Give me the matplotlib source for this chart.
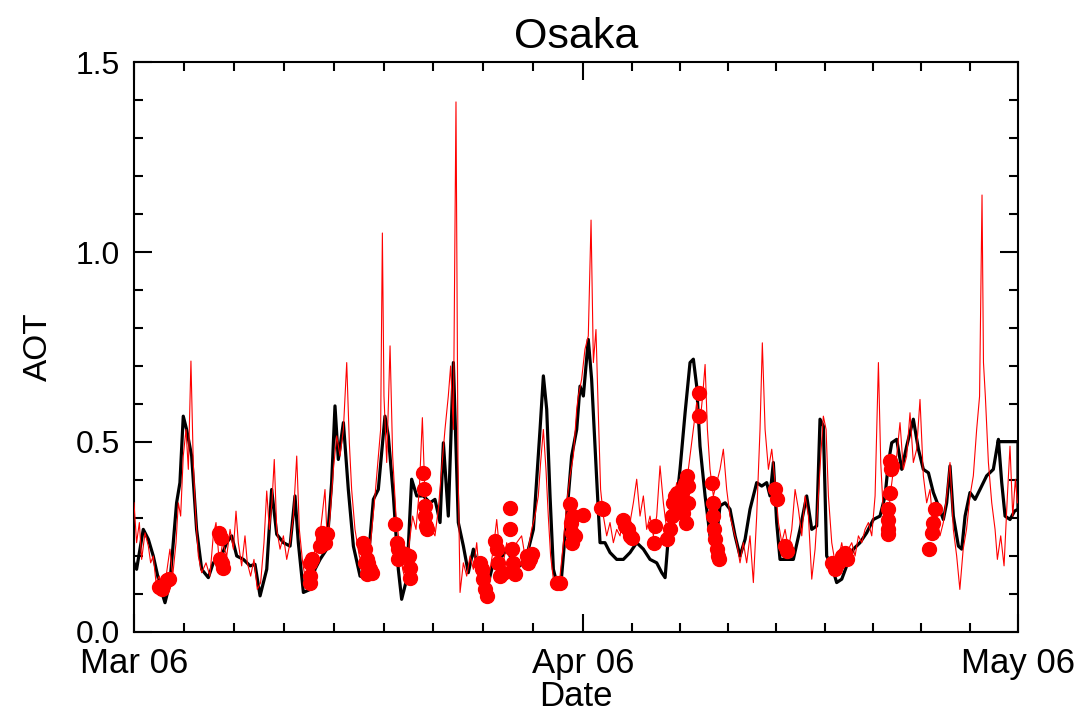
import numpy as np
import matplotlib
matplotlib.use("Agg")
import matplotlib.pyplot as plt
import matplotlib.dates as mdates
from matplotlib.ticker import FixedLocator
from datetime import datetime

plt.rcParams['font.family'] = ['Liberation Sans', 'DejaVu Sans']

# time axis: days since 2006-03-01 00:00
start = datetime(2006, 3, 1)
month_starts = [datetime(2006, 3, 1), datetime(2006, 4, 1), datetime(2006, 5, 1)]

# model AOT (black)
model_day = [0.00, 0.18, 0.64, 0.99, 1.33, 1.79, 2.14, 2.48, 2.94, 3.17, 3.40, 3.63, 3.98, 4.32,
             4.67, 5.13, 5.47, 5.94, 6.40, 6.74, 7.09, 7.55, 8.01, 8.35, 8.70, 9.16, 9.50, 9.85,
             10.31, 10.77, 11.11, 11.34, 11.69, 12.15, 12.49, 12.84, 13.30, 13.64, 13.87, 14.10,
             14.45, 14.79, 15.14, 15.60, 16.06, 16.52, 16.86, 17.32, 17.55, 17.90, 18.24, 18.47,
             18.82, 19.16, 19.51, 19.97, 20.43, 20.77, 21.12, 21.35, 21.69, 22.04, 22.38, 22.73,
             23.07, 23.42, 23.88, 24.34, 24.80, 25.26, 25.72, 26.18, 26.64, 27.10, 27.56, 28.02,
             28.25, 28.48, 28.71, 28.94, 29.17, 29.51, 29.86, 30.20, 30.55, 30.78, 31.01, 31.35,
             31.58, 31.93, 32.16, 32.50, 32.85, 33.31, 33.77, 34.23, 34.69, 35.15, 35.61, 36.07,
             36.42, 36.65, 36.88, 37.34, 37.68, 38.03, 38.37, 38.60, 38.83, 39.06, 39.41, 39.75,
             40.10, 40.44, 40.79, 41.13, 41.48, 41.82, 42.17, 42.51, 42.97, 43.32, 43.66, 43.89,
             44.12, 44.35, 44.58, 45.04, 45.50, 45.96, 46.42, 46.77, 47.11, 47.34, 47.57, 47.80,
             48.15, 48.49, 48.84, 49.18, 49.64, 50.10, 50.56, 51.02, 51.48, 51.83, 52.06, 52.29,
             52.63, 52.98, 53.32, 53.78, 54.13, 54.47, 54.82, 55.16, 55.51, 55.85, 56.08, 56.31,
             56.54, 56.89, 57.12, 57.35, 57.69, 58.04, 58.38, 58.84, 59.30, 59.65, 59.88, 60.11,
             60.45, 60.76, 61.00, 61.00, 59.65]
model_aot = [0.182, 0.165, 0.270, 0.244, 0.200, 0.121, 0.077, 0.130, 0.340, 0.393, 0.568, 0.533,
             0.463, 0.270, 0.165, 0.143, 0.182, 0.191, 0.235, 0.253, 0.200, 0.191, 0.174, 0.178,
             0.095, 0.165, 0.375, 0.257, 0.235, 0.226, 0.358, 0.235, 0.104, 0.112, 0.165, 0.191,
             0.218, 0.393, 0.595, 0.454, 0.551, 0.375, 0.226, 0.147, 0.143, 0.349, 0.375, 0.568,
             0.516, 0.358, 0.165, 0.086, 0.139, 0.402, 0.358, 0.358, 0.340, 0.349, 0.288, 0.498,
             0.305, 0.709, 0.288, 0.226, 0.156, 0.218, 0.147, 0.112, 0.182, 0.191, 0.218, 0.182,
             0.174, 0.200, 0.270, 0.533, 0.674, 0.586, 0.358, 0.165, 0.130, 0.147, 0.305, 0.463,
             0.533, 0.647, 0.621, 0.770, 0.665, 0.402, 0.235, 0.235, 0.209, 0.191, 0.191, 0.209,
             0.235, 0.218, 0.191, 0.182, 0.156, 0.143, 0.253, 0.305, 0.428, 0.577, 0.709, 0.718,
             0.647, 0.489, 0.358, 0.253, 0.218, 0.332, 0.340, 0.323, 0.253, 0.200, 0.244, 0.323,
             0.393, 0.384, 0.393, 0.358, 0.446, 0.288, 0.191, 0.191, 0.191, 0.270, 0.358, 0.270,
             0.279, 0.560, 0.542, 0.200, 0.174, 0.130, 0.139, 0.174, 0.218, 0.235, 0.261, 0.296,
             0.305, 0.358, 0.446, 0.498, 0.507, 0.428, 0.489, 0.560, 0.481, 0.428, 0.419, 0.367,
             0.332, 0.296, 0.340, 0.437, 0.305, 0.226, 0.218, 0.305, 0.367, 0.349, 0.375, 0.411,
             0.428, 0.507, 0.393, 0.305, 0.296, 0.318, 0.323, 0.501, 0.501]

# second model AOT (thin red)
red_day = [0.00, 0.18, 0.37, 0.53, 0.76, 0.99, 1.15, 1.33, 1.52, 1.75, 1.98, 2.25, 2.48, 2.67,
           2.90, 3.06, 3.22, 3.40, 3.59, 3.75, 3.93, 4.09, 4.26, 4.44, 4.67, 4.97, 5.24, 5.47,
           5.66, 5.89, 6.12, 6.40, 6.63, 6.86, 7.04, 7.20, 7.43, 7.66, 7.82, 8.05, 8.28, 8.51,
           8.74, 8.97, 9.16, 9.34, 9.52, 9.68, 9.85, 10.08, 10.31, 10.54, 10.77, 11.00, 11.23,
           11.41, 11.64, 11.87, 12.15, 12.38, 12.61, 12.88, 13.18, 13.34, 13.53, 13.76, 13.99,
           14.22, 14.45, 14.68, 14.86, 15.02, 15.25, 15.55, 15.83, 16.10, 16.33, 16.63, 16.86,
           17.02, 17.14, 17.25, 17.44, 17.67, 17.85, 18.08, 18.31, 18.54, 18.77, 19.00, 19.23,
           19.46, 19.69, 19.90, 20.08, 20.31, 20.54, 20.77, 21.00, 21.23, 21.46, 21.69, 21.85,
           22.04, 22.22, 22.36, 22.50, 22.73, 22.96, 23.19, 23.42, 23.65, 23.88, 24.11, 24.34,
           24.57, 24.80, 25.03, 25.26, 25.49, 25.72, 25.95, 26.18, 26.41, 26.75, 26.98, 27.21,
           27.44, 27.67, 27.90, 28.06, 28.25, 28.43, 28.59, 28.75, 28.94, 29.17, 29.40, 29.63,
           29.86, 30.09, 30.32, 30.55, 30.66, 30.89, 31.12, 31.35, 31.54, 31.70, 31.88, 32.04,
           32.20, 32.39, 32.62, 32.85, 33.08, 33.31, 33.54, 33.77, 34.00, 34.23, 34.46, 34.69,
           34.92, 35.15, 35.38, 35.61, 35.84, 36.07, 36.30, 36.53, 36.76, 36.99, 37.22, 37.45,
           37.68, 37.91, 38.14, 38.37, 38.60, 38.83, 39.06, 39.24, 39.41, 39.57, 39.75, 39.98,
           40.21, 40.44, 40.67, 40.90, 41.13, 41.36, 41.59, 41.82, 42.05, 42.28, 42.51, 42.74,
           42.97, 43.20, 43.36, 43.55, 43.78, 44.01, 44.24, 44.47, 44.70, 44.93, 45.16, 45.39,
           45.62, 45.85, 46.08, 46.31, 46.54, 46.77, 47.00, 47.23, 47.39, 47.57, 47.76, 47.92,
           48.15, 48.38, 48.61, 48.84, 49.07, 49.30, 49.53, 49.76, 49.99, 50.22, 50.45, 50.68,
           50.91, 51.14, 51.37, 51.53, 51.72, 51.95, 52.18, 52.41, 52.63, 52.86, 53.09, 53.32,
           53.55, 53.78, 54.01, 54.24, 54.47, 54.70, 54.93, 55.16, 55.39, 55.62, 55.85, 56.08,
           56.31, 56.54, 56.77, 56.99, 57.22, 57.45, 57.69, 57.92, 58.15, 58.35, 58.52, 58.62,
           58.75, 58.96, 59.19, 59.42, 59.58, 59.81, 60.04, 60.27, 60.45, 60.64, 60.82, 60.96]
red_aot = [0.340, 0.235, 0.288, 0.191, 0.261, 0.226, 0.182, 0.200, 0.130, 0.147, 0.104, 0.156,
           0.218, 0.147, 0.235, 0.340, 0.305, 0.463, 0.533, 0.428, 0.713, 0.446, 0.305, 0.200,
           0.156, 0.182, 0.147, 0.253, 0.288, 0.182, 0.235, 0.200, 0.270, 0.218, 0.318, 0.235,
           0.174, 0.253, 0.182, 0.147, 0.191, 0.112, 0.130, 0.235, 0.371, 0.270, 0.340, 0.454,
           0.270, 0.218, 0.253, 0.191, 0.235, 0.305, 0.463, 0.270, 0.182, 0.130, 0.165, 0.200,
           0.235, 0.270, 0.375, 0.235, 0.305, 0.428, 0.516, 0.463, 0.533, 0.709, 0.498, 0.375,
           0.270, 0.200, 0.165, 0.182, 0.235, 0.358, 0.463, 0.533, 1.050, 0.621, 0.446, 0.753,
           0.463, 0.305, 0.235, 0.165, 0.130, 0.235, 0.305, 0.270, 0.375, 0.564, 0.358, 0.305,
           0.270, 0.253, 0.323, 0.428, 0.533, 0.621, 0.700, 0.533, 1.395, 0.446, 0.104, 0.182,
           0.147, 0.200, 0.165, 0.235, 0.130, 0.182, 0.112, 0.165, 0.218, 0.296, 0.200, 0.182,
           0.235, 0.200, 0.182, 0.235, 0.253, 0.200, 0.218, 0.270, 0.305, 0.358, 0.446, 0.533,
           0.428, 0.305, 0.200, 0.139, 0.130, 0.147, 0.235, 0.340, 0.411, 0.463, 0.586, 0.621,
           0.665, 0.744, 0.779, 1.084, 0.709, 0.796, 0.577, 0.375, 0.305, 0.253, 0.288, 0.235,
           0.270, 0.253, 0.305, 0.253, 0.288, 0.340, 0.402, 0.305, 0.358, 0.270, 0.305, 0.253,
           0.305, 0.437, 0.340, 0.270, 0.305, 0.340, 0.393, 0.358, 0.419, 0.393, 0.463, 0.533,
           0.604, 0.551, 0.621, 0.704, 0.533, 0.428, 0.358, 0.393, 0.428, 0.481, 0.375, 0.305,
           0.270, 0.235, 0.182, 0.235, 0.182, 0.253, 0.130, 0.305, 0.533, 0.761, 0.533, 0.428,
           0.481, 0.393, 0.288, 0.235, 0.270, 0.218, 0.270, 0.375, 0.323, 0.253, 0.358, 0.305,
           0.139, 0.218, 0.358, 0.463, 0.568, 0.533, 0.358, 0.235, 0.182, 0.191, 0.235, 0.182,
           0.218, 0.235, 0.200, 0.253, 0.235, 0.270, 0.288, 0.253, 0.358, 0.709, 0.446, 0.305,
           0.253, 0.358, 0.428, 0.463, 0.551, 0.428, 0.463, 0.577, 0.446, 0.481, 0.612, 0.411,
           0.340, 0.375, 0.270, 0.305, 0.253, 0.288, 0.358, 0.446, 0.270, 0.200, 0.112, 0.218,
           0.270, 0.358, 0.411, 0.533, 0.620, 1.150, 0.709, 0.620, 0.446, 0.340, 0.270, 0.191,
           0.253, 0.174, 0.358, 0.489, 0.305, 0.402, 0.340]

# sun photometer observations (red dots)
obs_day = [1.75, 1.91, 1.98, 2.25, 2.44,
           5.89, 5.98, 5.94, 6.05, 6.12,
           12.15, 12.26, 12.15, 12.15, 12.95, 13.07, 13.18, 12.84, 13.30,
           15.83, 15.94, 16.06, 16.17, 16.29, 16.40, 15.94, 16.10,
           18.01, 18.13, 18.20, 18.24, 18.70, 19.00, 19.05, 19.05,
           19.97, 20.01, 20.08, 20.11, 20.15, 20.20,
           23.88, 23.99, 24.11, 24.22, 24.34,
           24.91, 25.03, 25.14, 25.26, 25.49, 25.95, 25.95, 26.06, 26.18, 26.29,
           27.10, 27.21, 27.33, 27.44,
           29.17, 29.40,
           30.09, 30.14, 30.20, 30.20, 30.43, 30.32, 31.01,
           32.20, 32.34,
           33.77, 33.89, 34.12, 34.23, 34.34,
           35.96, 35.89,
           36.76, 36.99, 37.11, 37.22, 37.34, 37.45, 37.57, 37.68, 37.80, 37.91, 38.03, 38.14,
           38.26, 38.09, 37.91, 38.26,
           39.02, 39.02,
           39.87, 39.93, 39.98, 40.03, 40.10, 40.21, 40.33, 40.39,
           44.24, 44.35,
           44.93, 45.04,
           48.15, 48.38, 48.61, 48.84, 49.07, 49.18,
           52.18, 52.22, 52.18, 52.06, 52.01, 52.06, 52.06, 52.29,
           55.28, 55.16, 55.05, 54.89]
obs_aot = [0.119, 0.112, 0.121, 0.137, 0.140,
           0.261, 0.248, 0.191, 0.182, 0.169,
           0.182, 0.191, 0.147, 0.130, 0.261, 0.244, 0.235, 0.226, 0.257,
           0.235, 0.218, 0.191, 0.182, 0.165, 0.156, 0.182, 0.152,
           0.283, 0.235, 0.218, 0.191, 0.204, 0.200, 0.169, 0.143,
           0.419, 0.375, 0.332, 0.305, 0.279, 0.270,
           0.182, 0.165, 0.139, 0.112, 0.095,
           0.240, 0.218, 0.182, 0.147, 0.156, 0.327, 0.270, 0.218, 0.182, 0.152,
           0.200, 0.182, 0.191, 0.204,
           0.128, 0.128,
           0.336, 0.288, 0.261, 0.235, 0.253, 0.305, 0.309,
           0.327, 0.323,
           0.296, 0.279, 0.270, 0.253, 0.248,
           0.279, 0.235,
           0.244, 0.270, 0.305, 0.340, 0.358, 0.367, 0.323, 0.349, 0.367, 0.375, 0.393, 0.411,
           0.384, 0.288, 0.314, 0.340,
           0.630, 0.568,
           0.393, 0.340, 0.305, 0.270, 0.244, 0.218, 0.200, 0.191,
           0.375, 0.349,
           0.226, 0.213,
           0.182, 0.165, 0.182, 0.200, 0.209, 0.191,
           0.450, 0.428, 0.367, 0.323, 0.296, 0.270, 0.257, 0.437,
           0.323, 0.288, 0.261, 0.218]

t0 = mdates.date2num(start)
t_model = t0 + np.array(model_day)
t_red = t0 + np.array(red_day)
t_obs = t0 + np.array(obs_day)

fig = plt.figure(figsize=(10.92, 7.23), dpi=100)
ax = fig.add_axes([0.1227, 0.1259, 0.8095, 0.7883])

ax.plot(t_model, model_aot, color='black', lw=2.3, zorder=2)
ax.plot(t_red, red_aot, color='red', lw=0.8, zorder=3)
ax.plot(t_obs, obs_aot, 'o', color='red', ms=10, mec='red', zorder=4)

month_nums = mdates.date2num(month_starts)
ax.set_xlim(month_nums[0], month_nums[-1])
ax.set_ylim(0, 1.5)

# 9 minor intervals per month, like the IDL default
minor = []
for a, b in zip(month_nums[:-1], month_nums[1:]):
    minor.extend(np.linspace(a, b, 10)[1:-1])
ax.xaxis.set_major_locator(FixedLocator(month_nums))
ax.xaxis.set_major_formatter(mdates.DateFormatter('%b %y'))
ax.xaxis.set_minor_locator(FixedLocator(minor))
ax.yaxis.set_major_locator(FixedLocator([0.0, 0.5, 1.0, 1.5]))
ax.yaxis.set_minor_locator(FixedLocator(np.arange(1, 15) / 10))
ax.yaxis.set_major_formatter(matplotlib.ticker.FormatStrFormatter('%.1f'))

for s in ax.spines.values():
    s.set_linewidth(1.5)
ax.tick_params(which='both', direction='in', top=True, right=True, width=1.5)
ax.tick_params(which='major', length=13)
ax.tick_params(which='minor', length=6.5)
ax.tick_params(axis='x', which='major', labelsize=25, pad=11)
ax.tick_params(axis='y', which='major', labelsize=23, pad=10)

ax.set_title('Osaka', fontsize=31, pad=10)
ax.set_xlabel('Date', fontsize=25, labelpad=0)
ax.set_ylabel('AOT', fontsize=24, labelpad=16)

fig.savefig('out.png', dpi=100)
